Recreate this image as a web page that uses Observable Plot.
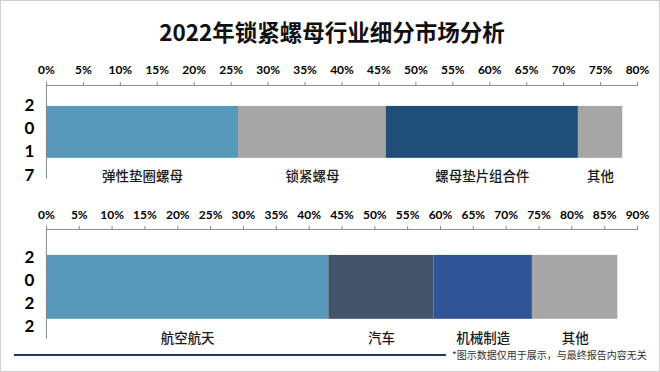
<!DOCTYPE html>
<html>
<head>
<meta charset="utf-8">
<script src="https://cdn.jsdelivr.net/npm/d3@7"></script>
<script src="https://cdn.jsdelivr.net/npm/@observablehq/plot@0.6"></script>
<style>
  html, body { margin: 0; padding: 0; background: #fff; }
  #wrap { position: relative; width: 658px; height: 370px; border: 1px solid #cfcfcf; overflow: hidden; background: #fff; }
  #title { position: absolute; left: 0; width: 662px; top: 14px; text-align: center; font-family: "Noto Sans CJK SC", sans-serif; font-weight: bold; font-size: 22.5px; line-height: 32px; color: #111; }
  .chart { position: absolute; left: -1px; }
  #foot-line { position: absolute; left: 13px; top: 353px; width: 432px; height: 2px; background: #1f3864; }
  #foot-text { position: absolute; left: 451px; top: 346px; white-space: nowrap; font-family: "Noto Sans CJK SC", sans-serif; font-size: 10px; line-height: 16px; color: #333; }
  .chart svg g[aria-label="x-axis tick"] path { stroke: #8a8a8a; }
</style>
</head>
<body>
<div id="wrap">
  <div id="title">2022年锁紧螺母行业细分市场分析</div>
  <div id="top" class="chart" style="top:50px"></div>
  <div id="bottom" class="chart" style="top:190px"></div>
  <div id="foot-line"></div>
  <div id="foot-text">*图示数据仅用于展示，与最终报告内容无关</div>
</div>
<script>
// ---- data ----
const years = ["2017", "2022"];
const cats2017 = ["弹性垫圈螺母", "锁紧螺母", "螺母垫片组合件", "其他"];
const shares2017 = [26, 20, 26, 6];
const cats2022 = ["航空航天", "汽车", "机械制造", "其他"];
const shares2022 = [43, 16, 15, 13];
const xTicks2017 = [0, 5, 10, 15, 20, 25, 30, 35, 40, 45, 50, 55, 60, 65, 70, 75, 80];
const xTicks2022 = [0, 5, 10, 15, 20, 25, 30, 35, 40, 45, 50, 55, 60, 65, 70, 75, 80, 85, 90];
// ---- styles ----
const colors2017 = ["#5899bb", "#a6a6a6", "#1f4e79", "#a6a6a6"];
const colors2022 = ["#5899bb", "#44546a", "#2f5597", "#a6a6a6"];

function makeChart(year, cats, shares, colors, ticks, opt) {
  const rows = cats.map((c, i) => ({year, cat: c, share: shares[i]}));
  return Plot.plot({
    width: 660,
    height: opt.height,
    marginTop: opt.marginTop,
    marginBottom: opt.marginBottom,
    marginLeft: 46,
    marginRight: 22,
    style: {fontFamily: "Lato, sans-serif", fontSize: "12px", fontWeight: "bold", color: "#000", background: "transparent"},
    x: {domain: [ticks[0], ticks[ticks.length - 1]], ticks, tickFormat: d => d + "%", axis: "top", tickSize: 4, tickPadding: opt.tickPadding, label: null},
    y: {domain: [year], axis: null, padding: 0},
    color: {domain: cats, range: colors},
    marks: [
      Plot.barX(rows, Plot.stackX({x: "share", y: "year", fill: "cat", insetTop: opt.insetTop, insetBottom: opt.insetBottom})),
      Plot.text(rows, Plot.stackX({x: "share", y: "year", text: "cat", dy: opt.labelDy, fontFamily: "Noto Sans CJK SC", fontSize: 13.5, fontWeight: 500, fill: "#1a1a1a"})),
      Plot.text([year], {x: () => 0, y: d => d, text: d => d.split("").join("\n"), dx: -17, dy: opt.digitDy, lineHeight: opt.lineHeight, fontFamily: "Lato", fontSize: 17, fontWeight: "bold", fill: "#000", textAnchor: "middle"}),
      Plot.ruleX([0], {stroke: "#8a8a8a"}),
      Plot.frame({anchor: "top", stroke: "#8a8a8a"})
    ]
  });
}

document.getElementById("top").append(makeChart(years[0], cats2017, shares2017, colors2017, xTicks2017,
  {height: 140, marginTop: 34, marginBottom: 12, tickPadding: 7, insetTop: 21, insetBottom: 21, labelDy: 44, digitDy: 6, lineHeight: 23.3 / 17}));
document.getElementById("bottom").append(makeChart(years[1], cats2022, shares2022, colors2022, xTicks2022,
  {height: 160, marginTop: 38, marginBottom: 12, tickPadding: 6, insetTop: 26, insetBottom: 20, labelDy: 54, digitDy: 5.5, lineHeight: 23 / 17}));
</script>
</body>
</html>
